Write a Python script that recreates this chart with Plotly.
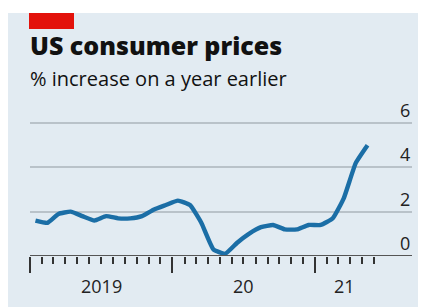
import plotly.graph_objects as go
import pandas as pd

# ---- data ----
months = pd.date_range("2019-01-01", periods=29, freq="MS") + pd.Timedelta(days=14)
cpi = [1.6, 1.5, 1.9, 2.0, 1.8, 1.6, 1.8, 1.7, 1.7, 1.8, 2.1, 2.3,
       2.5, 2.3, 1.5, 0.3, 0.1, 0.6, 1.0, 1.3, 1.4, 1.2, 1.2, 1.4,
       1.4, 1.7, 2.6, 4.2, 5.0]
y_ticks = [0, 2, 4, 6]
year_labels = ["2019", "20", "21"]
year_label_pos = ["2019-07-02", "2020-07-02", "2021-03-17"]
year_starts = ["2019-01-01", "2020-01-01", "2021-01-01"]
month_ticks = [d.strftime("%Y-%m-%d") for d in pd.date_range("2019-01-01", "2021-06-01", freq="MS")]

O = 8  # page body margin
W, H = 426 - O, 307 - O
L, R = 30 - O, 412 - O           # plot area x in figure px
Y0, Y6 = 256 - O, 123 - O         # pixel rows of values 0 and 6
PPU = (Y0 - Y6) / 6
T = Y6 - 6                        # plot top a little above the 6 gridline
B = Y0
YMAX = (B - T) / PPU
PANEL = "#e2ebf2"


def px(x):
    return (x - O - L) / (R - L)


def py(y):
    return (B - (y - O)) / (B - T)


fig = go.Figure()
fig.add_trace(go.Scatter(x=months, y=cpi, mode="lines",
                         line=dict(color="#1b6ea6", width=4.4, shape="spline", smoothing=0.4),
                         hoverinfo="skip", cliponaxis=False))

shapes = [
    dict(type="rect", xref="paper", yref="paper", x0=px(0), x1=px(500), y0=py(0), y1=py(13),
         fillcolor="white", line_width=0, layer="below"),
    dict(type="rect", xref="paper", yref="paper", x0=px(29), x1=px(74), y0=py(13), y1=py(29),
         fillcolor="#e3120b", line_width=0),
    dict(type="line", xref="paper", yref="y", x0=0, x1=1, y0=0, y1=0,
         line=dict(color="#555555", width=2)),
]

annotations = [
    dict(text="US consumer prices", xref="paper", yref="paper", x=px(28), y=py(64),
         xanchor="left", yanchor="bottom", showarrow=False,
         font=dict(family="Open Sans", size=25, color="#111111", weight=800)),
    dict(text="% increase on a year earlier", xref="paper", yref="paper", x=px(28), y=py(94),
         xanchor="left", yanchor="bottom", showarrow=False,
         font=dict(family="Open Sans", size=20, color="#111111")),
]
for v in y_ticks:
    annotations.append(dict(text=str(v), xref="paper", yref="y", x=px(412), y=v,
                            xanchor="right", yanchor="bottom", showarrow=False, yshift=-1,
                            font=dict(family="Open Sans", size=18, color="#222222")))
for lab, pos in zip(year_labels, year_label_pos):
    annotations.append(dict(text=lab, xref="x", yref="paper", x=pos, y=py(286),
                            xanchor="center", yanchor="middle", showarrow=False,
                            font=dict(family="Open Sans", size=18, color="#222222")))

fig.update_layout(
    width=W, height=H,
    margin=dict(l=L, r=W - R, t=T, b=H - B, pad=0),
    paper_bgcolor=PANEL, plot_bgcolor=PANEL,
    showlegend=False,
    shapes=shapes, annotations=annotations,
    xaxis=dict(range=["2019-01-01", "2021-09-06"], showgrid=False, zeroline=False,
               tickmode="array", tickvals=year_starts, ticks="outside", ticklen=16,
               tickwidth=1.5, tickcolor="#333333", showticklabels=False, showline=False,
               minor=dict(tickmode="array", tickvals=month_ticks, ticks="outside", ticklen=7,
                          tickwidth=1.5, tickcolor="#333333", showgrid=False)),
    yaxis=dict(range=[0, YMAX], tickvals=y_ticks, showticklabels=False, showgrid=True,
               gridcolor="#b9c2c9", gridwidth=1.5, zeroline=False, fixedrange=True),
)

fig.write_html("out.html")
